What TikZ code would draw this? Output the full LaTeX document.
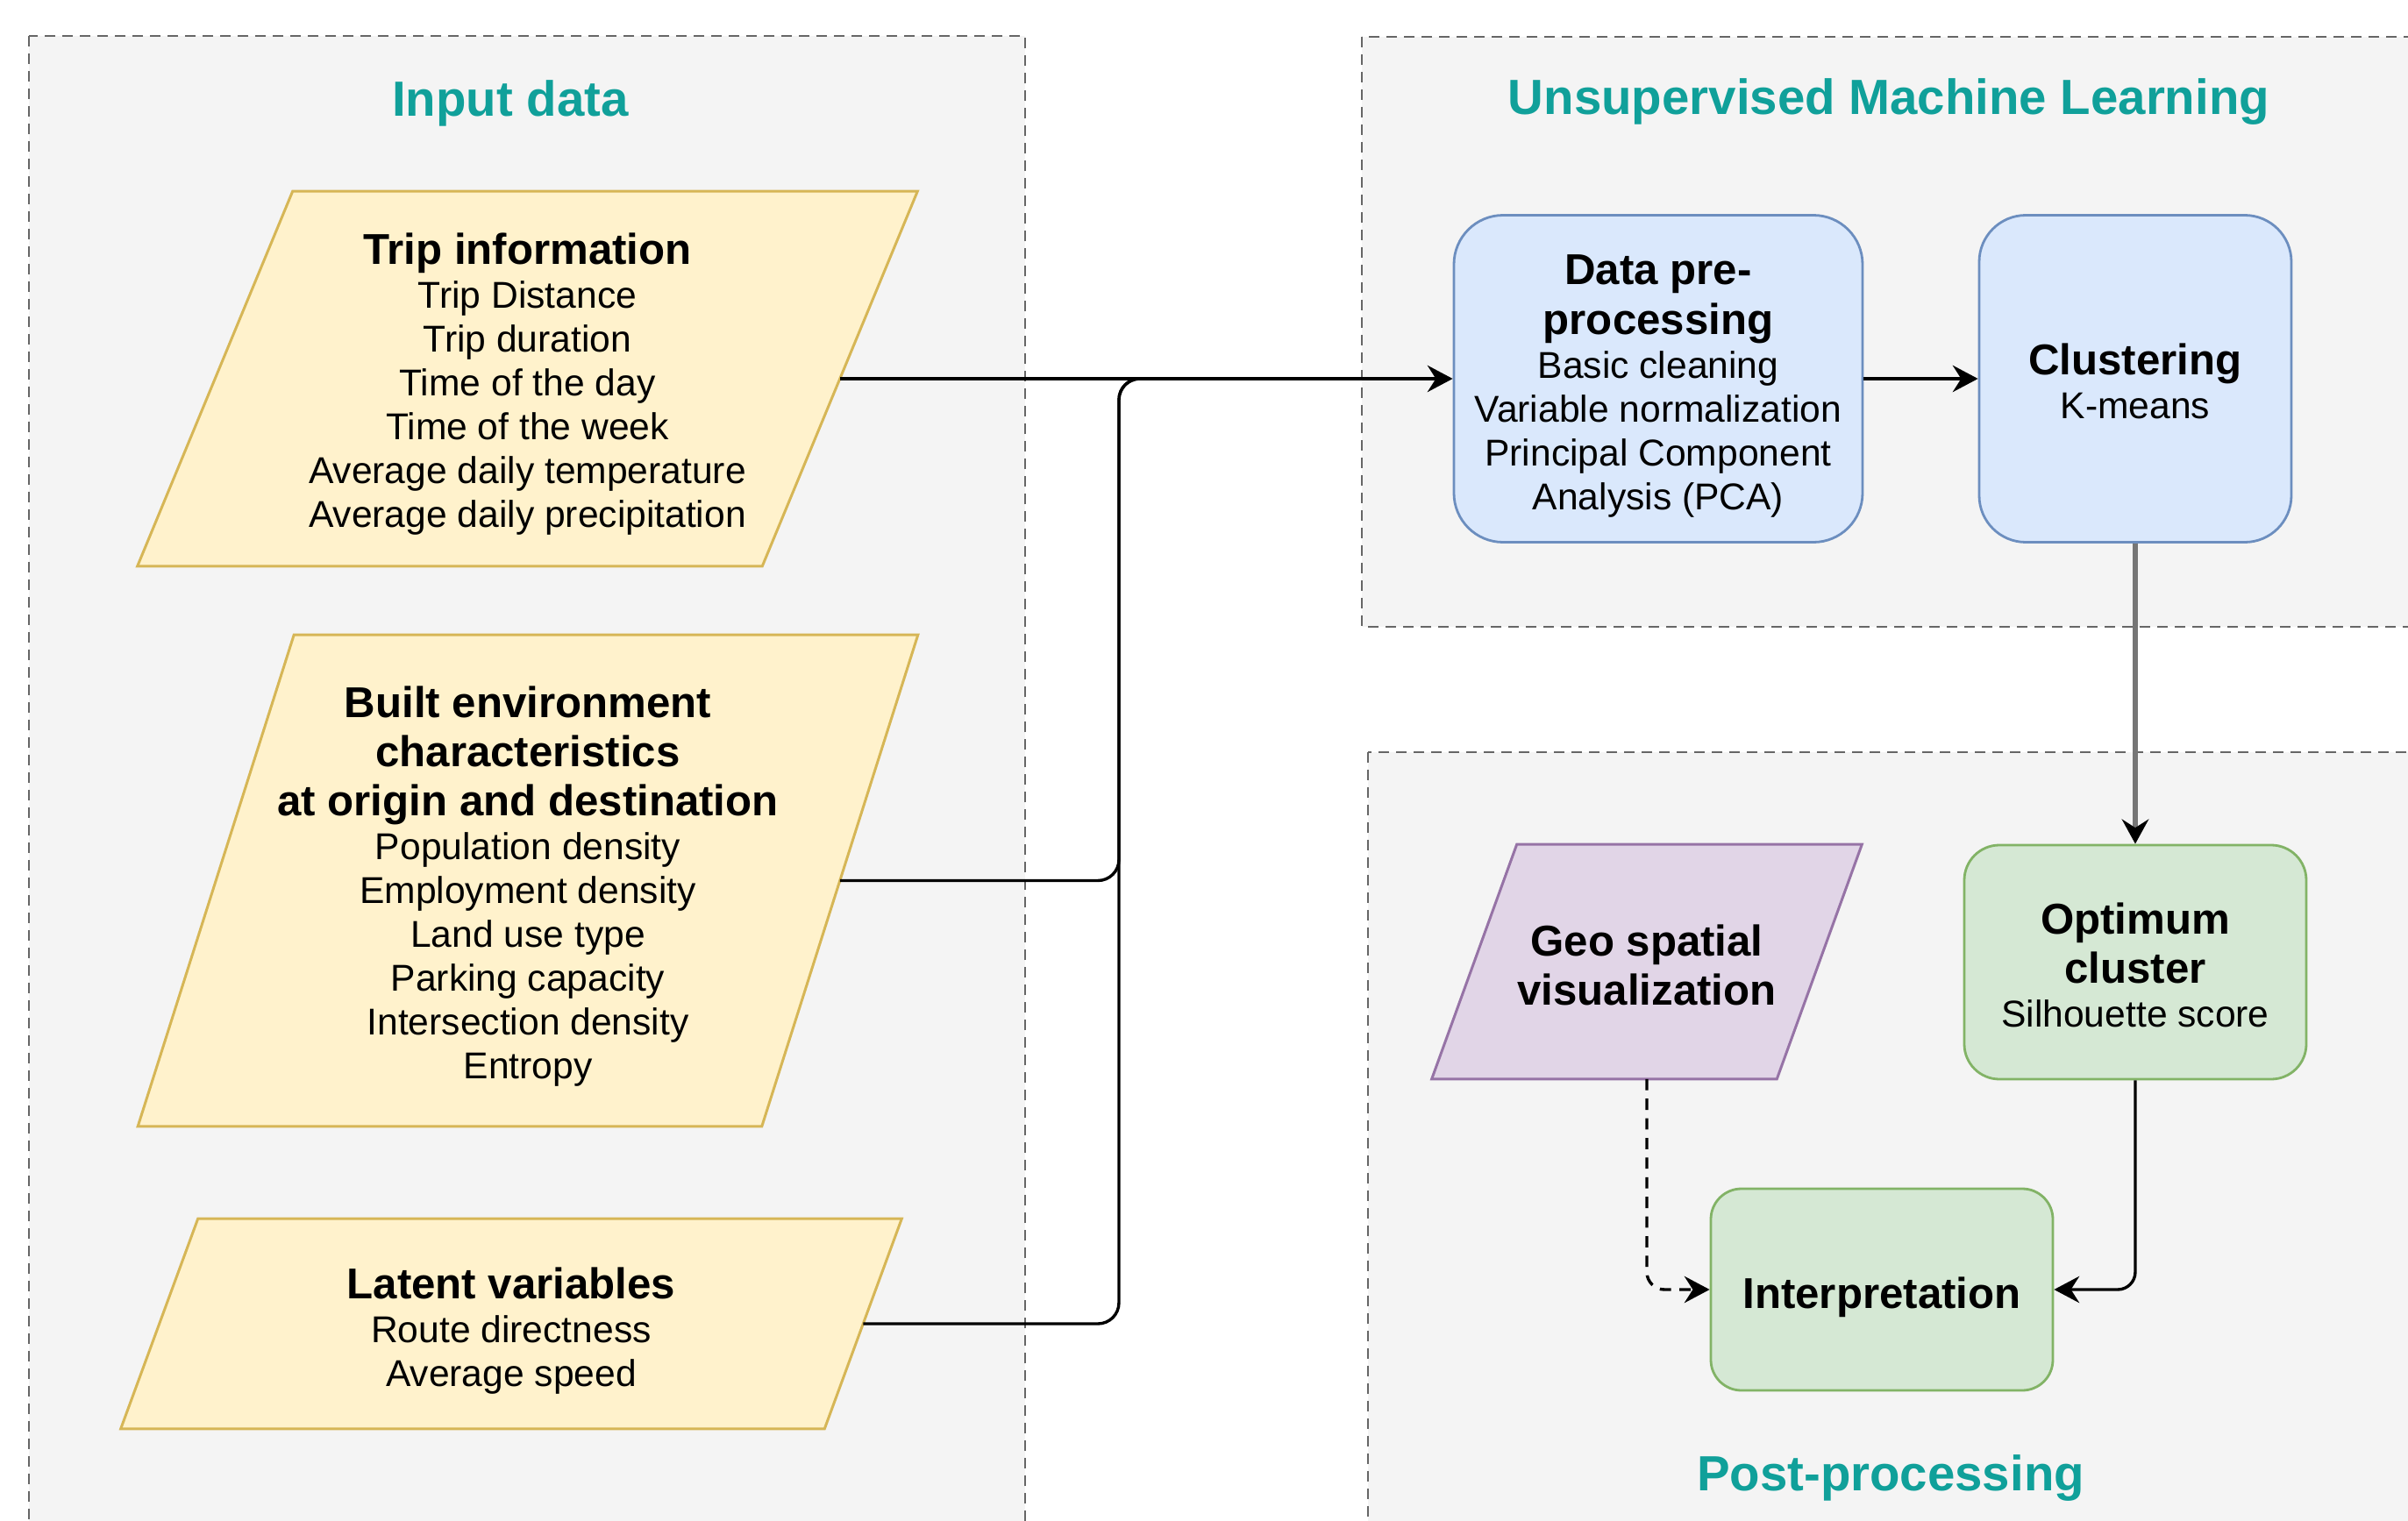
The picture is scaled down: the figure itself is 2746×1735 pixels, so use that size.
\documentclass[tikz,border=0pt]{standalone}
\usepackage{fontspec}
\setmainfont{Liberation Sans}
\usetikzlibrary{arrows.meta,calc}

\pgfdeclarelayer{panels}
\pgfdeclarelayer{shapes}
\pgfsetlayers{panels,shapes,main}

\definecolor{panelfill}{HTML}{F4F4F4}
\definecolor{paneledge}{HTML}{666666}
\definecolor{titleteal}{RGB}{16,160,154}
\definecolor{inputfill}{HTML}{FFF2CC}
\definecolor{inputedge}{HTML}{D6B656}
\definecolor{procfill}{HTML}{DAE8FC}
\definecolor{procedge}{HTML}{6C8EBF}
\definecolor{postfill}{HTML}{D5E8D4}
\definecolor{postedge}{HTML}{82B366}
\definecolor{vizfill}{HTML}{E1D5E7}
\definecolor{vizedge}{HTML}{9673A6}
\definecolor{linkgray}{HTML}{767676}

\newcommand\headfont{\bfseries\fontsize{12.3}{14}\selectfont}
\newcommand\itemfont{\fontsize{10.65}{12.5}\selectfont}
% invisible strut that sets the height of a first text line
\newcommand\toppad[1]{\rule{0pt}{#1}}

% parallelogram drawn behind a text node; #2 is the horizontal slant
\newcommand\slantshape[3]{%
  \begin{pgfonlayer}{shapes}
    \path[#3] ($(#1.north west)+(#2/2,0)$) -- ($(#1.north east)+(#2/2,0)$)
      -- ($(#1.south east)-(#2/2,0)$) -- ($(#1.south west)-(#2/2,0)$) -- cycle;
  \end{pgfonlayer}}

\begin{document}
\begin{tikzpicture}[x=0.25pt, y=-0.25pt,
  panel/.style={fill=panelfill, draw=paneledge, line width=0.5pt, dash pattern=on 3pt off 2pt},
  sectiontitle/.style={text=titleteal, font=\bfseries\fontsize{14.1}{17}\selectfont, anchor=base, inner sep=0pt},
  itembox/.style={inner sep=0pt, align=center, font=\itemfont},
  inputshape/.style={fill=inputfill, draw=inputedge, line width=0.75pt},
  vizshape/.style={fill=vizfill, draw=vizedge, line width=0.75pt},
  stage/.style={rectangle, draw, line width=0.7pt, inner sep=0pt, align=center, font=\itemfont},
  procbox/.style={stage, fill=procfill, draw=procedge},
  postbox/.style={stage, fill=postfill, draw=postedge},
  link/.style={line width=0.85pt, draw=black},
  >={Stealth[length=7.2pt,width=7.6pt,inset=2.4pt]},
]

\useasboundingbox (0,0) rectangle (2746,1735);

% section panels
\begin{pgfonlayer}{panels}
  \fill[white] (0,0) rectangle (2746,1735);
  \clip (0,0) rectangle (2746,1735);
  \draw[panel] (33,41) rectangle (1169,1780);
  \draw[panel] (1553,42) rectangle (2790,715);
  \draw[panel] (1560,858) rectangle (2790,1780);
\end{pgfonlayer}

\node[sectiontitle] (titleinput) at (582,132) {Input data};
\node[sectiontitle] (titleuml) at (2154,130) {Unsupervised Machine Learning};
\node[sectiontitle] (titlepost) at (2156,1700) {Post-processing};

% input data
\node[itembox, minimum width=177.75pt, minimum height=106.5pt] (trip) at (601.5,432)
  {{\headfont\toppad{12pt}Trip information}\\Trip Distance\\Trip duration\\Time of the day\\Time of the week\\Average daily temperature\\Average daily precipitation};
\slantshape{trip}{177}{inputshape}

\node[itembox, minimum width=177.5pt, minimum height=139.75pt] (built) at (602,1004.5)
  {{\headfont\toppad{12pt}Built environment}\\[1.5pt]{\headfont characteristics}\\[1.5pt]{\headfont at origin and destination}\\Population density\\Employment density\\Land use type\\Parking capacity\\Intersection density\\Entropy};
\slantshape{built}{178}{inputshape}

\node[itembox, minimum width=200.25pt, minimum height=59.5pt] (latent) at (583,1510)
  {{\headfont\toppad{13pt}Latent variables}\\Route directness\\Average speed};
\slantshape{latent}{88}{inputshape}

% machine learning stages
\node[procbox, minimum width=116.5pt, minimum height=93.25pt, rounded corners=14pt] (prep) at (1891,432)
  {{\headfont\toppad{12.7pt}Data pre-}\\[1.7pt]{\headfont processing}\\Basic cleaning\\Variable normalization\\Principal Component\\Analysis (PCA)};
\node[procbox, minimum width=89pt, minimum height=93.25pt, rounded corners=13.3pt] (clust) at (2435,432)
  {{\headfont\toppad{10.3pt}Clustering}\\K-means};

% post-processing
\node[postbox, minimum width=97.5pt, minimum height=66.75pt, rounded corners=10pt] (opt) at (2435,1097.5)
  {{\headfont\toppad{10.8pt}Optimum}\\[1.5pt]{\headfont cluster}\\Silhouette score};
\node[postbox, minimum width=97.5pt, minimum height=57.5pt, rounded corners=8.7pt] (interp) at (2146,1471)
  {\headfont\toppad{13.4pt}Interpretation};
\node[itembox, minimum width=98pt, minimum height=66.5pt] (geo) at (1878,1097)
  {{\headfont\toppad{10.8pt}Geo spatial}\\[1.5pt]{\headfont visualization}};
\slantshape{geo}{97}{vizshape}

% connectors
\coordinate (merge) at (1276,432);
\coordinate (joinpt) at (1360,432);
\draw[link, ->] (trip.east) -- (prep.west);
\draw[link, rounded corners=6pt] (built.east) -| (merge) -- (joinpt);
\draw[link, rounded corners=6pt] (latent.east) -| (merge) -- (joinpt);
\draw[link, ->] (prep.east) -- (clust.west);
\draw[line width=1.5pt, draw=linkgray, -{Stealth[length=7pt,width=7.6pt,inset=2.4pt,color=black]}] (clust.south) -- (opt.north);
\draw[link, rounded corners=5pt, ->] (opt.south) |- (interp.east);
\draw[link, dash pattern=on 3.2pt off 2.4pt, rounded corners=5pt, ->] (geo.south) |- (interp.west);

\end{tikzpicture}
\end{document}
